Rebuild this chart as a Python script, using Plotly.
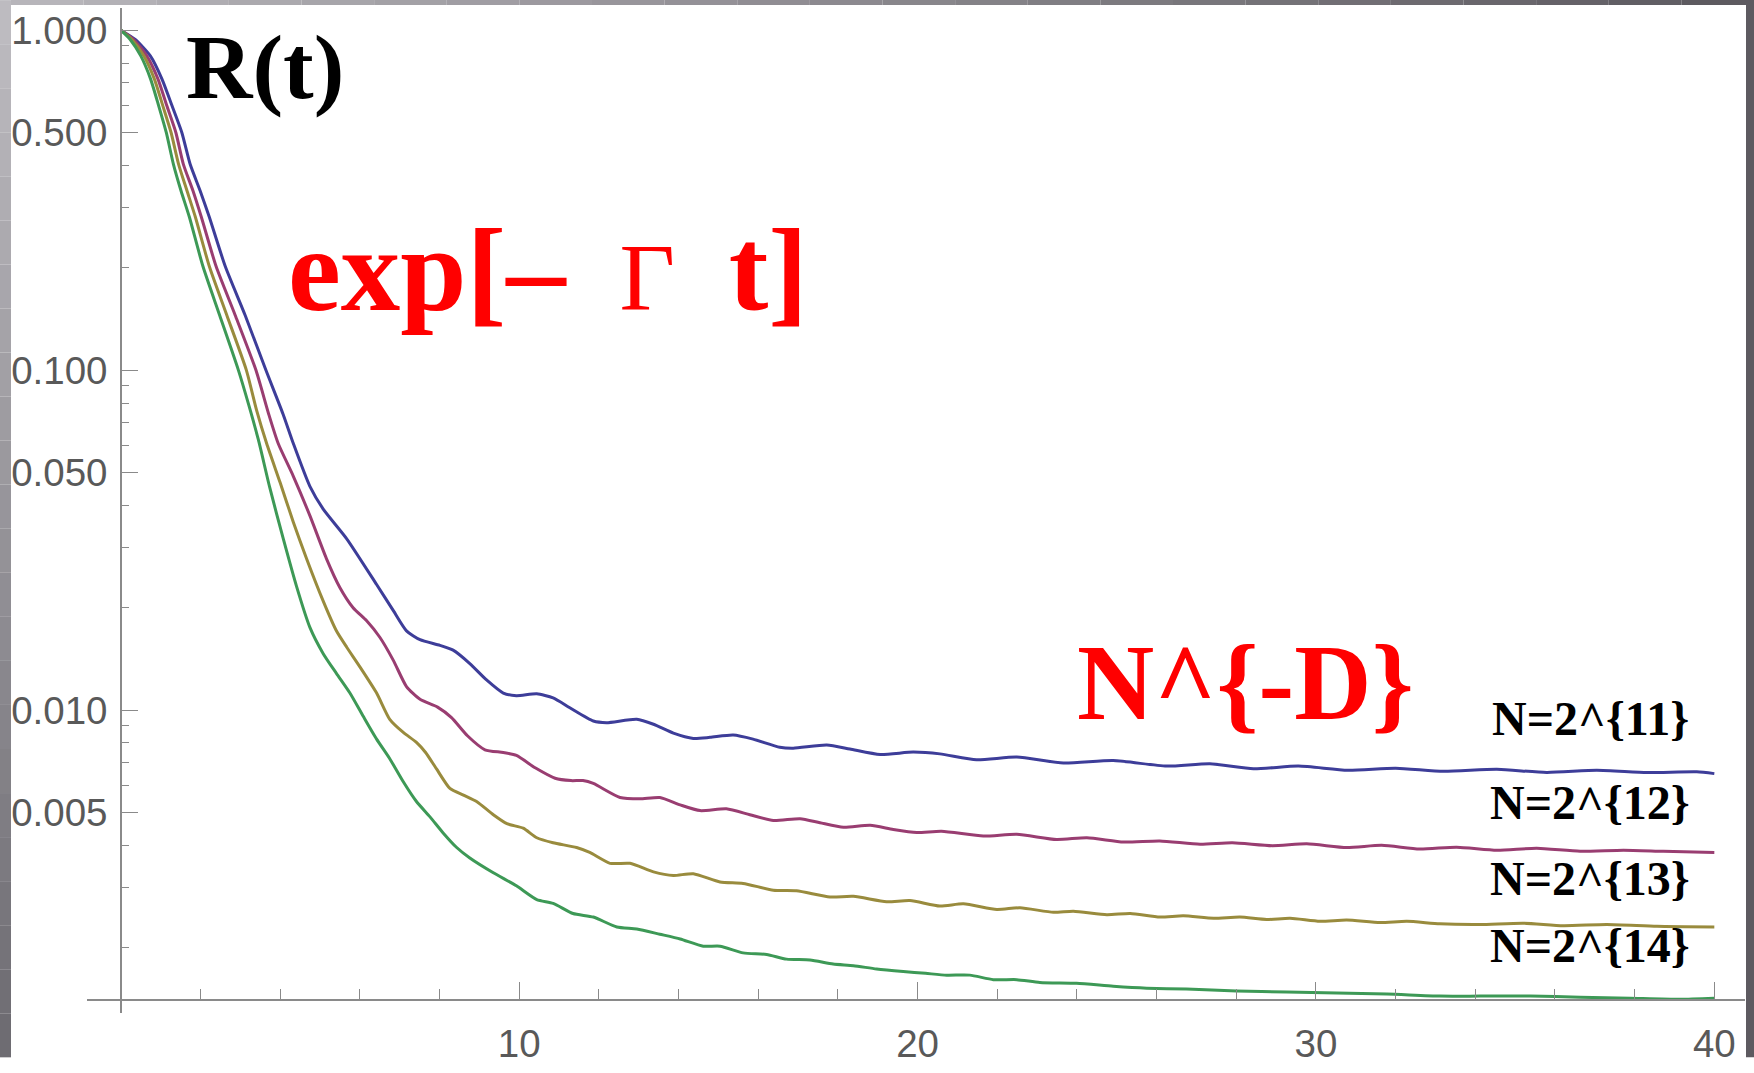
import plotly.graph_objects as go

# ---------------- data ----------------
t_n11 = [0, 0.36, 0.74, 1.03, 1.28, 1.53, 1.74, 1.99, 2.22, 2.62, 3.12, 3.64, 4.07, 4.33, 4.745,
         5.08, 5.67, 6.42, 6.84, 7.17, 7.51, 8.01, 8.34, 8.76, 9.18, 9.60, 9.93, 10.44, 10.85,
         11.27, 11.86, 12.19, 12.95, 13.37, 13.87, 14.37, 14.79, 15.37, 15.87, 16.54, 16.88,
         17.72, 18.30, 19.06, 19.89, 20.56, 21.48, 22.49, 23.66, 24.91, 26.25, 27.34, 28.43,
         29.56, 30.8, 32.0, 33.2, 34.54, 35.79, 37.05, 38.31, 39.56, 40.0]
r_n11 = [1.0, 0.939, 0.84, 0.719, 0.601, 0.50, 0.403, 0.337, 0.282, 0.202, 0.145, 0.100, 0.0743,
         0.0608, 0.0455, 0.039, 0.0319, 0.0234, 0.0196, 0.0171, 0.0161, 0.0155, 0.0150, 0.0137,
         0.01226, 0.01122, 0.01102, 0.01116, 0.01085, 0.01015, 0.00928, 0.00918, 0.00939, 0.00908,
         0.00855, 0.00825, 0.00831, 0.00844, 0.00821, 0.00777, 0.00772, 0.00789, 0.00768, 0.0074,
         0.00752, 0.00743, 0.00714, 0.00727, 0.00698, 0.0071, 0.00684, 0.00695, 0.00672, 0.00684,
         0.00665, 0.00674, 0.0066, 0.00669, 0.00655, 0.00665, 0.00655, 0.00658, 0.0065]

t_n12 = [0, 0.32, 0.65, 0.93, 1.15, 1.38, 1.57, 1.81, 2.02, 2.39, 2.87, 3.39, 3.71, 3.95, 4.33,
         4.745, 5.16, 5.50, 5.83, 6.17, 6.50, 6.84, 7.17, 7.51, 7.95, 8.30, 8.70, 9.14, 9.60,
         9.93, 10.40, 10.90, 11.30, 11.60, 11.86, 12.53, 13.03, 13.53, 14.04, 14.54, 15.20,
         15.79, 16.38, 17.05, 17.55, 18.14, 18.81, 19.39, 19.98, 20.60, 21.65, 22.49, 23.49,
         24.25, 25.17, 26.08, 27.09, 27.90, 28.90, 29.77, 30.77, 31.65, 32.60, 33.53, 34.54,
         35.54, 36.63, 37.72, 38.72, 40.0]
r_n12 = [1.0, 0.939, 0.84, 0.719, 0.601, 0.50, 0.403, 0.337, 0.282, 0.202, 0.145, 0.100, 0.0743,
         0.0608, 0.0487, 0.0373, 0.0279, 0.0229, 0.0200, 0.0183, 0.01637, 0.0140, 0.01172,
         0.01075, 0.0102, 0.0095, 0.0084, 0.00764, 0.0075, 0.00735, 0.00676, 0.0063, 0.0062,
         0.0062, 0.00608, 0.00553, 0.00548, 0.00553, 0.00526, 0.00506, 0.00512, 0.00492,
         0.00473, 0.00479, 0.00466, 0.00452, 0.00458, 0.00445, 0.00436, 0.0044, 0.00426,
         0.00431, 0.00416, 0.00421, 0.00409, 0.00412, 0.00403, 0.00407, 0.00399, 0.00404,
         0.00394, 0.0040, 0.0039, 0.00395, 0.00387, 0.00392, 0.00384, 0.00387, 0.00384, 0.00381]

t_n13 = [0, 0.276, 0.58, 0.84, 1.05, 1.26, 1.45, 1.66, 1.87, 2.22, 2.66, 3.15, 3.41, 3.66, 4.00,
         4.33, 4.66, 5.08, 5.41, 5.67, 6.00, 6.42, 6.75, 7.09, 7.42, 7.65, 7.92, 8.26, 8.60,
         8.93, 9.35, 9.69, 10.10, 10.44, 10.85, 11.44, 11.77, 12.28, 12.78, 13.37, 13.87,
         14.37, 15.04, 15.62, 16.38, 16.96, 17.80, 18.39, 19.22, 19.81, 20.56, 21.15, 21.99,
         22.57, 23.41, 23.91, 24.75, 25.34, 26.08, 26.67, 27.43, 28.09, 28.76, 29.35, 30.10,
         30.77, 31.61, 32.28, 33.11, 34.12, 35.21, 36.21, 37.30, 38.56, 40.0]
r_n13 = [1.0, 0.939, 0.84, 0.719, 0.601, 0.50, 0.403, 0.337, 0.282, 0.202, 0.145, 0.100, 0.0760,
         0.0608, 0.0466, 0.0357, 0.0279, 0.0209, 0.0171, 0.0153, 0.0134, 0.01122, 0.00939,
         0.00859, 0.00803, 0.0075, 0.00672, 0.00588, 0.00562, 0.00538, 0.00492, 0.00463,
         0.00449, 0.00421, 0.00407, 0.00394, 0.00381, 0.00354, 0.00354, 0.00334, 0.00326,
         0.0033, 0.00312, 0.00309, 0.00295, 0.00294, 0.00282, 0.00283, 0.00273, 0.00275,
         0.00265, 0.00269, 0.00259, 0.00262, 0.00254, 0.00256, 0.0025, 0.00252, 0.00246,
         0.00248, 0.00244, 0.00246, 0.00242, 0.00244, 0.00239, 0.00241, 0.00237, 0.00239,
         0.00235, 0.00234, 0.00236, 0.00232, 0.00234, 0.00231, 0.0023]

t_n14 = [0, 0.234, 0.50, 0.745, 0.946, 1.14, 1.32, 1.51, 1.72, 2.06, 2.48, 2.95, 3.21, 3.45,
         3.74, 4.08, 4.41, 4.745, 5.08, 5.41, 5.75, 6.08, 6.42, 6.75, 7.09, 7.42, 7.76, 8.09,
         8.43, 8.76, 9.35, 9.93, 10.44, 10.85, 11.35, 11.86, 12.45, 12.95, 13.53, 14.04, 14.62,
         15.04, 15.62, 16.21, 16.71, 17.30, 17.88, 18.39, 18.97, 19.64, 20.20, 20.73, 21.31,
         21.90, 22.49, 23.07, 23.99, 24.91, 25.75, 26.75, 28.01, 29.27, 30.52, 31.78, 33.11,
         34.12, 35.38, 36.63, 37.89, 39.14, 40.0]
r_n14 = [1.0, 0.939, 0.84, 0.719, 0.601, 0.50, 0.403, 0.337, 0.282, 0.202, 0.145, 0.100, 0.0790,
         0.0625, 0.0450, 0.0318, 0.0231, 0.0175, 0.01465, 0.01282, 0.01122, 0.0096, 0.00821,
         0.00719, 0.00615, 0.00538, 0.00485, 0.00435, 0.00394, 0.00367, 0.00332, 0.00304,
         0.00277, 0.0027, 0.00252, 0.00246, 0.0023, 0.00227, 0.00219, 0.00212, 0.00202,
         0.00202, 0.00193, 0.00191, 0.00185, 0.00184, 0.00179, 0.00177, 0.00173, 0.0017,
         0.00168, 0.00166, 0.00166, 0.00161, 0.00161, 0.00158, 0.00157, 0.00154, 0.00152,
         0.00151, 0.00149, 0.00148, 0.00147, 0.00146, 0.00144, 0.00144, 0.00144, 0.00143,
         0.00142, 0.00141, 0.00142]

series_names = ["N=2^{11}", "N=2^{12}", "N=2^{13}", "N=2^{14}"]
series_t = [t_n11, t_n12, t_n13, t_n14]
series_r = [r_n11, r_n12, r_n13, r_n14]
series_colors = ["#3d3d99", "#993d71", "#998b3d", "#3d9956"]

y_major_vals = [0.005, 0.01, 0.05, 0.1, 0.5, 1.0]
y_major_text = ["0.005", "0.010", "0.050", "0.100", "0.500", "1.000"]
y_minor_vals = [0.002, 0.003, 0.004, 0.006, 0.007, 0.008, 0.009, 0.02, 0.03, 0.04,
                0.06, 0.07, 0.08, 0.09, 0.2, 0.3, 0.4, 0.6, 0.7, 0.8, 0.9]
x_major_vals = [10, 20, 30, 40]

# ---------------- geometry ----------------
W, H = 1754, 1073
L, R_, T, B = 87, 9, 8, 45
PW, PH = W - L - R_, H - T - B


def px2x(px):
    return (px - L) / PW


def px2y(py):
    return (H - B - py) / PH


fig = go.Figure()
for name, tt, rr, col in zip(series_names, series_t, series_r, series_colors):
    fig.add_trace(go.Scatter(x=tt, y=rr, mode="lines", name=name,
                             line=dict(color=col, width=3, shape="spline", smoothing=0.6),
                             showlegend=False))

axis_col = "#8a8a8a"
tick_font = dict(family="Liberation Sans, Arial, sans-serif", size=38.5, color="#595959")

fig.update_layout(
    width=W, height=H,
    margin=dict(l=L, r=R_, t=T, b=B, pad=0),
    paper_bgcolor="white", plot_bgcolor="white",
    xaxis=dict(range=[-0.85, 40.77], showgrid=False, zeroline=False,
               showline=True, linecolor=axis_col, linewidth=1.5,
               anchor="free", position=px2y(1015),
               tickmode="array", tickvals=x_major_vals,
               ticks="inside", ticklen=17, tickwidth=1.3, tickcolor=axis_col,
               minor=dict(ticks="inside", ticklen=10, tickwidth=1.3, tickcolor=axis_col,
                          dtick=2, tick0=0, showgrid=False),
               tickfont=tick_font, ticklabelstandoff=10),
    yaxis=dict(type="log", range=[-2.8913, 0.0652], showgrid=False, zeroline=False,
               showline=True, linecolor=axis_col, linewidth=1.5,
               anchor="free", position=px2x(121),
               tickmode="array", tickvals=y_major_vals, ticktext=y_major_text,
               ticks="inside", ticklen=16, tickwidth=1.3, tickcolor=axis_col,
               minor=dict(ticks="inside", ticklen=7, tickwidth=1.3, tickcolor=axis_col,
                          tickmode="array", tickvals=y_minor_vals, showgrid=False),
               tickfont=tick_font, ticklabelstandoff=5),
)

# ---------------- frame strips (screenshot border) ----------------
def lerp_col(c1, c2, f):
    a = [int(c1[i:i + 2], 16) for i in (1, 3, 5)]
    b = [int(c2[i:i + 2], 16) for i in (1, 3, 5)]
    return "#%02x%02x%02x" % tuple(int(round(a[k] + (b[k] - a[k]) * f)) for k in range(3))


shapes = []
n = 24
for i in range(n):
    y0, y1 = H * i / n, H * (i + 1) / n
    shapes.append(dict(type="rect", xref="paper", yref="paper", layer="above",
                       x0=px2x(0), x1=px2x(11), y0=px2y(y1), y1=px2y(y0),
                       fillcolor=lerp_col("#bdbbc0", "#6e6c72", i / (n - 1)), line=dict(width=0)))
for i in range(n):
    x0, x1 = 11 + (W - 11) * i / n, 11 + (W - 11) * (i + 1) / n
    shapes.append(dict(type="rect", xref="paper", yref="paper", layer="above",
                       x0=px2x(x0), x1=px2x(x1), y0=px2y(5), y1=px2y(0),
                       fillcolor=lerp_col("#b7b5ba", "#5d5a60", i / (n - 1)), line=dict(width=0)))
shapes.append(dict(type="rect", xref="paper", yref="paper", layer="above",
                   x0=px2x(1746), x1=px2x(W), y0=px2y(H), y1=px2y(0),
                   fillcolor="#5d5a60", line=dict(width=0)))
fig.update_layout(shapes=shapes)

# ---------------- text annotations ----------------
serif = "Liberation Serif, Times New Roman, serif"
ann = [
    dict(text="<b>R(t)</b>", x=px2x(265), y=px2y(68), size=92, color="black"),
    dict(text="<b>exp[– </b><span style='font-size:96px'> Γ </span><b> t]</b>",
         x=px2x(548), y=px2y(274), size=119, color="#ff0000"),
    dict(text="<b>N^{-D}</b>", x=px2x(1245), y=px2y(693), size=107, color="#ff0000"),
]
label_y = [729, 814, 891, 959]
for name, ly in zip(series_names, label_y):
    ann.append(dict(text="<b>" + name + "</b>", x=px2x(1590), y=px2y(ly), size=48, color="black"))

for a in ann:
    fig.add_annotation(text=a["text"], x=a["x"], y=a["y"], xref="paper", yref="paper",
                       xanchor="center", yanchor="middle", showarrow=False,
                       font=dict(family=serif, size=a["size"], color=a["color"]))

page_fix = """
document.body.style.margin = '0';
document.body.style.padding = '0';
"""

fig.write_html("out.html", post_script=page_fix)
